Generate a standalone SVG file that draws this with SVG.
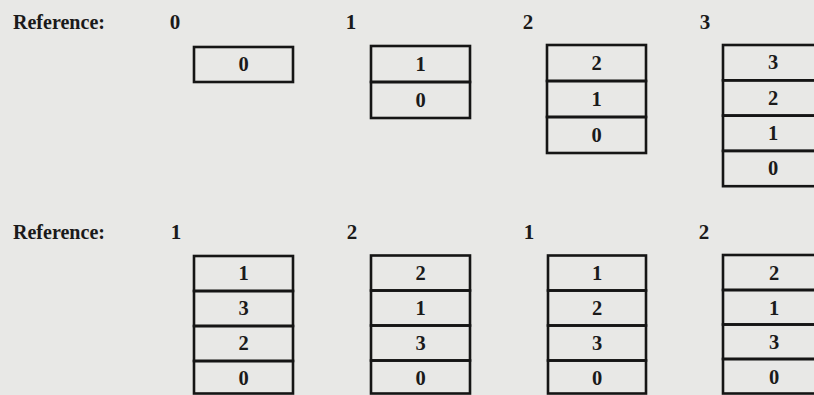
<svg xmlns="http://www.w3.org/2000/svg" width="814" height="395" viewBox="0 0 814 395">
<style>
.bg{fill:#e8e8e6}
.cell{fill:none;stroke:#151515;stroke-width:2.6}
.t{font-family:"Liberation Serif","Times New Roman",serif;font-size:20.5px;font-weight:bold;fill:#1a1a1a}
.c{text-anchor:middle}
.lbl{font-size:21px}
</style>
<rect class="bg" x="0" y="0" width="814" height="395"/>
<g id="labels">
<text class="t lbl" x="13" y="28.5" textLength="92" lengthAdjust="spacingAndGlyphs">Reference:</text>
<text class="t lbl c" x="175" y="28.5">0</text>
<text class="t lbl c" x="351" y="28.5">1</text>
<text class="t lbl c" x="528" y="28.5">2</text>
<text class="t lbl c" x="705" y="28.5">3</text>
<text class="t lbl" x="13" y="238.5" textLength="92" lengthAdjust="spacingAndGlyphs">Reference:</text>
<text class="t lbl c" x="176" y="238.5">1</text>
<text class="t lbl c" x="352" y="238.5">2</text>
<text class="t lbl c" x="529" y="238.5">1</text>
<text class="t lbl c" x="704" y="238.5">2</text>
</g>
<g id="stack-r1-0">
<rect class="cell" x="194" y="47" width="99" height="35"/>
<text class="t c" x="243.5" y="71">0</text>
</g>
<g id="stack-r1-1">
<rect class="cell" x="371" y="46" width="99" height="36"/>
<rect class="cell" x="371" y="82" width="99" height="36"/>
<text class="t c" x="420.5" y="71">1</text>
<text class="t c" x="420.5" y="107">0</text>
</g>
<g id="stack-r1-2">
<rect class="cell" x="547" y="45" width="99" height="36"/>
<rect class="cell" x="547" y="81" width="99" height="36"/>
<rect class="cell" x="547" y="117" width="99" height="36"/>
<text class="t c" x="596.5" y="70">2</text>
<text class="t c" x="596.5" y="106">1</text>
<text class="t c" x="596.5" y="142">0</text>
</g>
<g id="stack-r1-3">
<rect class="cell" x="723" y="45" width="99" height="35.3"/>
<rect class="cell" x="723" y="80.3" width="99" height="35.3"/>
<rect class="cell" x="723" y="115.6" width="99" height="35.3"/>
<rect class="cell" x="723" y="150.9" width="99" height="35.3"/>
<text class="t c" x="773" y="69">3</text>
<text class="t c" x="773" y="105">2</text>
<text class="t c" x="773" y="140">1</text>
<text class="t c" x="773" y="175">0</text>
</g>
<g id="stack-r2-0">
<rect class="cell" x="194" y="256" width="99" height="35"/>
<rect class="cell" x="194" y="291" width="99" height="35"/>
<rect class="cell" x="194" y="326" width="99" height="35"/>
<rect class="cell" x="194" y="361" width="99" height="32.5"/>
<text class="t c" x="243.5" y="280">1</text>
<text class="t c" x="243.5" y="315">3</text>
<text class="t c" x="243.5" y="350">2</text>
<text class="t c" x="243.5" y="385">0</text>
</g>
<g id="stack-r2-1">
<rect class="cell" x="371" y="255.5" width="99" height="35"/>
<rect class="cell" x="371" y="290.5" width="99" height="35"/>
<rect class="cell" x="371" y="325.5" width="99" height="35"/>
<rect class="cell" x="371" y="360.5" width="99" height="33"/>
<text class="t c" x="420.5" y="280">2</text>
<text class="t c" x="420.5" y="315">1</text>
<text class="t c" x="420.5" y="350">3</text>
<text class="t c" x="420.5" y="385">0</text>
</g>
<g id="stack-r2-2">
<rect class="cell" x="548" y="255.5" width="98" height="35"/>
<rect class="cell" x="548" y="290.5" width="98" height="35"/>
<rect class="cell" x="548" y="325.5" width="98" height="35"/>
<rect class="cell" x="548" y="360.5" width="98" height="33"/>
<text class="t c" x="597" y="280">1</text>
<text class="t c" x="597" y="315">2</text>
<text class="t c" x="597" y="350">3</text>
<text class="t c" x="597" y="385">0</text>
</g>
<g id="stack-r2-3">
<rect class="cell" x="723" y="255" width="99" height="35"/>
<rect class="cell" x="723" y="290" width="99" height="34.5"/>
<rect class="cell" x="723" y="324.5" width="99" height="34.5"/>
<rect class="cell" x="723" y="359" width="99" height="34.5"/>
<text class="t c" x="774" y="280">2</text>
<text class="t c" x="774" y="315">1</text>
<text class="t c" x="774" y="349">3</text>
<text class="t c" x="774" y="384">0</text>
</g>
</svg>
